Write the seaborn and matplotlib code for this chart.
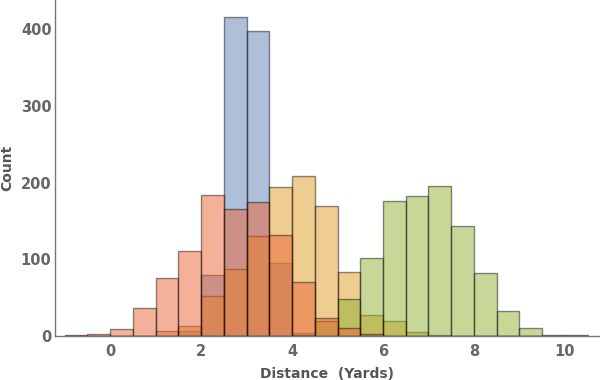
import numpy as np
import pandas as pd
import matplotlib
matplotlib.use("Agg")
import matplotlib.pyplot as plt
import seaborn as sns

# ---------------------------
# data (counts per 0.5-yard bin)
# ---------------------------
bin_edges = np.arange(-1.0, 10.51, 0.5)
bin_centers = (bin_edges[:-1] + bin_edges[1:]) / 2

#                -1  -.5   0  .5   1  1.5    2    2.5   3    3.5  4    4.5  5   5.5  6   6.5  7   7.5  8   8.5  9  9.5 10
counts_blue   = [0,   0,  0,  0,  0,   6,  80, 415, 397,  95,   4,   0,  0,   0,  0,   0,  0,   0,  0,   0,  0,  0, 0]
counts_orange = [0,   0,  0,  0,  6,  13,  52,  87, 130, 194, 208, 170, 84,  28, 19,   5,  1,   0,  0,   0,  0,  0, 0]
counts_green  = [0,   0,  0,  0,  0,   0,   0,   0,   0,   0,   1,  19, 48, 102, 176, 182, 195, 143, 82, 32, 10,  1, 1]
counts_red    = [1,   2,  9, 36, 75, 111, 184, 165, 174, 131,  71,  23, 11,   3,  0,   0,  0,   0,  0,   0,  0,  0, 0]

series = ["blue", "orange", "green", "red"]
all_counts = [counts_blue, counts_orange, counts_green, counts_red]
colors = ["#5E81B5", "#E19C24", "#8FB032", "#EB6235"]

df = pd.DataFrame({
    "center": np.tile(bin_centers, len(series)),
    "count": np.concatenate(all_counts),
    "series": np.repeat(series, len(bin_centers)),
})

# ---------------------------
# plot
# ---------------------------
sns.set_style("white")
plt.rcParams["font.family"] = ["DejaVu Sans"]

fig = plt.figure(figsize=(6, 3.8), dpi=100)
ax = fig.add_axes([55 / 600, 44 / 380, 545 / 600, 336 / 380])

for name, col in zip(series, colors):
    sub = df[(df["series"] == name) & (df["count"] > 0)]
    sns.histplot(data=sub, x="center", weights="count",
                 binwidth=0.5, binrange=(bin_edges[0], bin_edges[-1]),
                 color=col, alpha=0.5, edgecolor=(0, 0, 0, 0.45),
                 linewidth=1.0, ax=ax)

ax.set_xlim(-1.21, 10.77)
ax.set_ylim(0, 437.8)

for s in ["top", "right"]:
    ax.spines[s].set_visible(False)
for s in ["left", "bottom"]:
    ax.spines[s].set_color("#777777")
    ax.spines[s].set_linewidth(1.0)

ax.set_xticks([0, 2, 4, 6, 8, 10])
ax.set_yticks([0, 100, 200, 300, 400])
ax.set_yticks(np.arange(0, 437, 20), minor=True)
ax.tick_params(axis="both", which="major", direction="in", length=4,
               width=1, color="#777777", labelcolor="#666666", labelsize=10.5)
ax.tick_params(axis="y", which="minor", direction="in", length=2.5,
               width=0.8, color="#777777")
ax.tick_params(axis="x", pad=5.5)
ax.tick_params(axis="y", pad=2.5)
for lab in ax.get_xticklabels() + ax.get_yticklabels():
    lab.set_fontweight("bold")

ax.set_xlabel("Distance  (Yards)", fontsize=10, fontweight="bold",
              color="#555555", labelpad=6)
ax.set_ylabel("Count", fontsize=10, fontweight="bold", color="#555555",
              labelpad=5)

fig.savefig("out.png", dpi=100)
plt.close(fig)
